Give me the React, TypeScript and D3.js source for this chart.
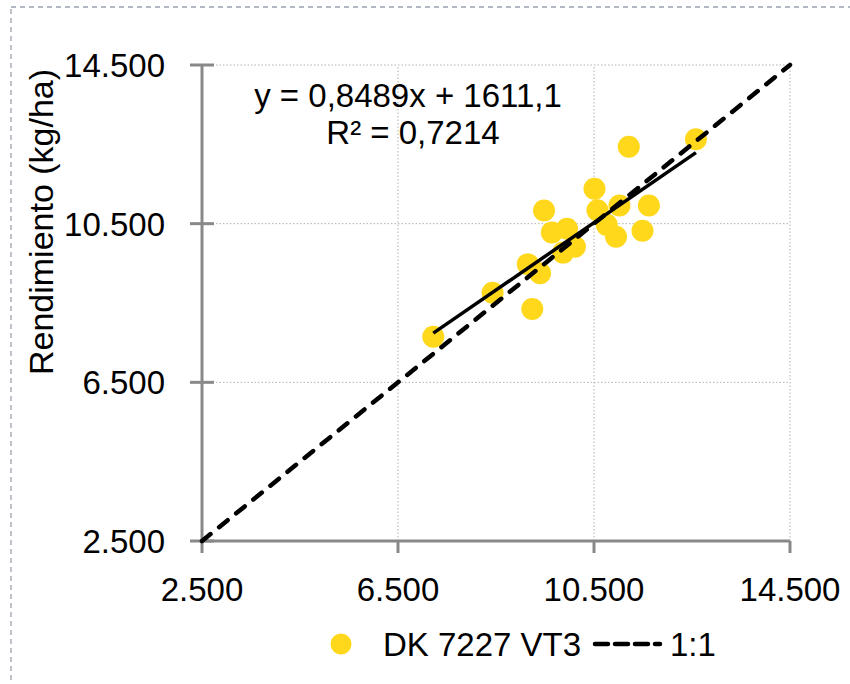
import React from "react";
import * as d3 from "d3";

const observed = [7220, 8430, 9240, 9150, 9400, 9480, 9640, 9950, 9870, 10110, 10510, 10570, 10760, 10950, 11020, 11210, 11620, 11490, 12580];
const predicted = [7650, 8760, 8350, 9480, 9250, 10830, 10280, 10370, 9770, 9920, 11380, 10840, 10470, 10170, 10960, 12440, 10960, 10320, 12630];
const ticks = [2500, 6500, 10500, 14500];
const slope = 0.8489;
const intercept = 1611.1;
const seriesName = "DK 7227 VT3";
const refName = "1:1";
const yTitle = "Rendimiento (kg/ha)";
const eqText = "y = 0,8489x + 1611,1";
const r2Text = "R² = 0,7214";

const W = 850;
const H = 684;
const FONT = "'Liberation Sans', Arial, sans-serif";

export default function App() {
  const x = d3.scaleLinear().domain([2500, 14500]).range([202, 790]);
  const y = d3.scaleLinear().domain([2500, 14500]).range([541, 65]);
  const fmt = (v: number) => d3.format(",")(v).replace(/,/g, ".");
  const xMin = d3.min(observed) as number;
  const xMax = d3.max(observed) as number;
  const line = d3.line<[number, number]>().x((d) => x(d[0])).y((d) => y(d[1]));
  const trend = line([[xMin, slope * xMin + intercept], [xMax, slope * xMax + intercept]]) as string;
  const ref = line([[2500, 2500], [14500, 14500]]) as string;
  const gray = "#898989";
  return (
    <svg width={W} height={H} style={{ position: "absolute", left: 0, top: 0, background: "#fff" }} fontFamily={FONT}>
      <rect x={11} y={7} width={W + 20} height={H + 20} fill="none" stroke="#9aa3ae" strokeWidth={1.3} strokeDasharray="5,4" />
      {/* gridlines */}
      {ticks.slice(1).map((t) => (
        <line key={"gy" + t} x1={x(2500)} x2={x(14500)} y1={y(t)} y2={y(t)} stroke="#b0b0b0" strokeWidth={1} strokeDasharray="1.5,2" />
      ))}
      {ticks.slice(1).map((t) => (
        <line key={"gx" + t} x1={x(t)} x2={x(t)} y1={y(2500)} y2={y(14500)} stroke="#b0b0b0" strokeWidth={1} strokeDasharray="1.5,2" />
      ))}
      {/* axes */}
      <line x1={x(2500)} x2={x(14500)} y1={y(2500)} y2={y(2500)} stroke={gray} strokeWidth={3} />
      <line x1={x(2500)} x2={x(2500)} y1={y(2500)} y2={y(14500)} stroke={gray} strokeWidth={3} />
      {ticks.map((t) => (
        <line key={"tx" + t} x1={x(t)} x2={x(t)} y1={y(2500)} y2={y(2500) + 12} stroke={gray} strokeWidth={3} />
      ))}
      {ticks.map((t) => (
        <line key={"ty" + t} x1={x(2500) - 12} x2={x(2500) + 12} y1={y(t)} y2={y(t)} stroke={gray} strokeWidth={3} />
      ))}
      {ticks.map((t) => (
        <text key={"lx" + t} x={x(t)} y={601} textAnchor="middle" fontSize={33} fill="#000">{fmt(t)}</text>
      ))}
      {ticks.map((t) => (
        <text key={"ly" + t} x={165} y={y(t) + 12} textAnchor="end" fontSize={33} fill="#000">{fmt(t)}</text>
      ))}
      <text transform="translate(53,222) rotate(-90)" textAnchor="middle" fontSize={34} fill="#000">{yTitle}</text>
      {/* points */}
      {observed.map((o, i) => (
        <circle key={"p" + i} cx={x(o)} cy={y(predicted[i])} r={11} fill="#FFD81C" />
      ))}
      <path d={ref} stroke="#000" strokeWidth={4.5} strokeDasharray="11,11" strokeLinecap="round" fill="none" />
      <path d={trend} stroke="#000" strokeWidth={3.5} fill="none" />
      <text x={408} y={107} textAnchor="middle" fontSize={33} fill="#000">{eqText}</text>
      <text x={413} y={144} textAnchor="middle" fontSize={33} fill="#000">{r2Text}</text>
      {/* legend */}
      <circle cx={341} cy={644} r={10.5} fill="#FFD81C" />
      <text x={383} y={656} fontSize={33} fill="#000">{seriesName}</text>
      <line x1={595} x2={660} y1={644} y2={644} stroke="#000" strokeWidth={4.5} strokeDasharray="13,7" strokeLinecap="round" />
      <text x={670} y={656} fontSize={33} fill="#000">{refName}</text>
    </svg>
  );
}
